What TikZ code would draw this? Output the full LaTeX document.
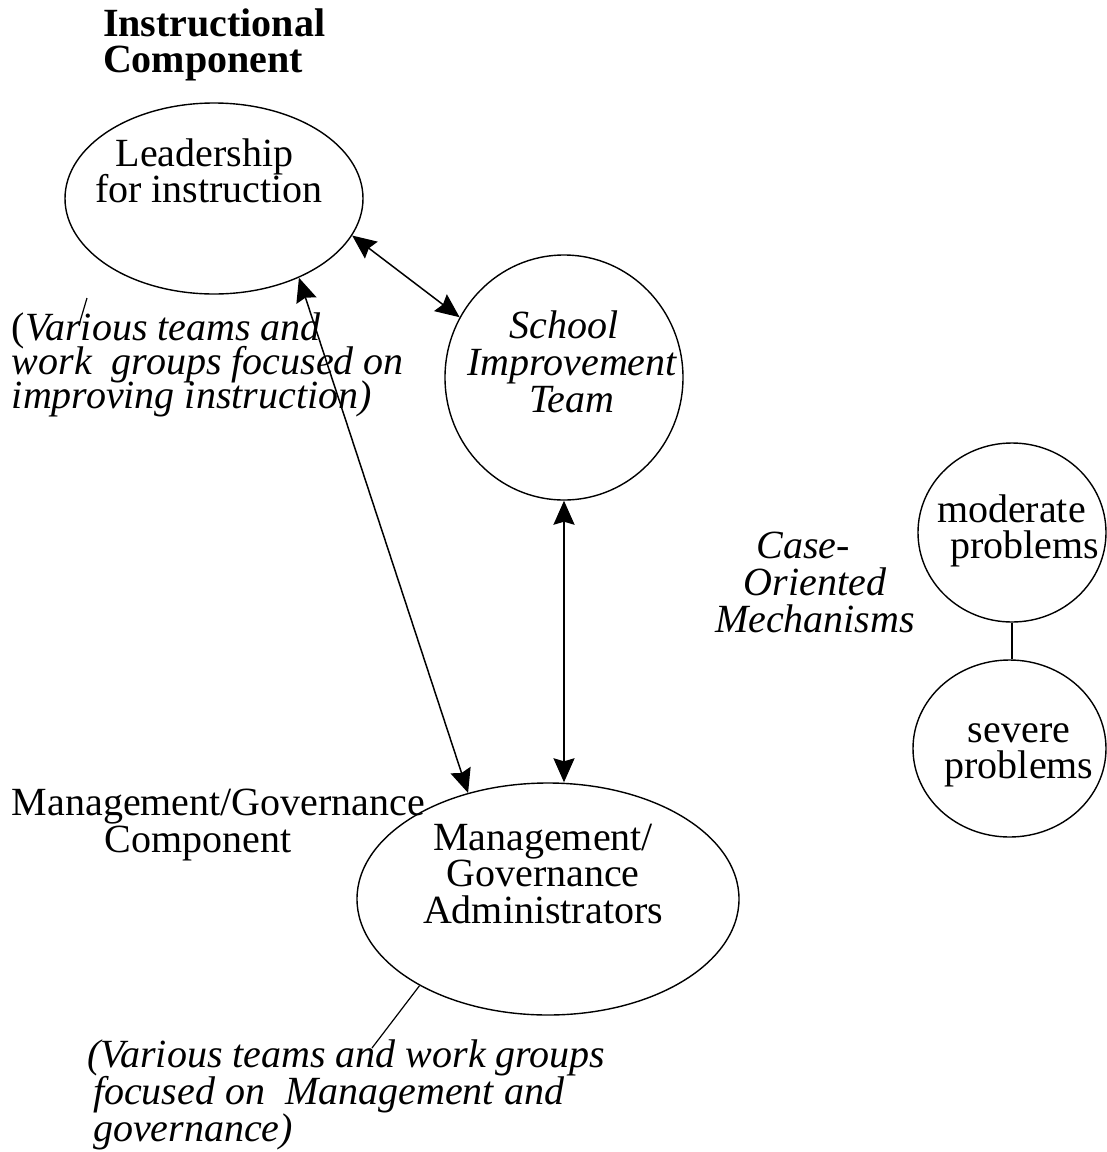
\documentclass[tikz,border=0pt]{standalone}
\usepackage{fontspec}
\setmainfont{Liberation Serif}
\usetikzlibrary{arrows.meta,shapes.geometric}
\newcommand{\cbox}[1]{\vtop{\halign{\hfil##\hfil\cr#1\crcr}}}
\newcommand{\lbox}[1]{\vtop{\halign{##\hfil\cr#1\crcr}}}
\newcommand{\fsz}[1]{\fontsize{40}{#1}\selectfont\lineskiplimit-100pt\relax}
\tikzset{
  lbl/.style={inner sep=0pt, outer sep=0pt, anchor=base, font={\fsz{36}}},
  lblw/.style={lbl, anchor=base west},
  blob/.style={draw, ellipse, line width=1.4pt, inner sep=0pt},
  arr/.style={line width=1.5pt, {Stealth[length=24pt,width=21pt,inset=3pt]}-{Stealth[length=24pt,width=21pt,inset=3pt]}},
  thin/.style={line width=1.2pt}
}
\begin{document}
\begin{tikzpicture}[x=1pt,y=-1pt]
\useasboundingbox (0,0) rectangle (1107,1152);
% title
\node[lblw, font={\fsz{36}\bfseries}] (title) at (103,36)
  {\lbox{Instructional\cr Component}};
% leadership
\node[blob, minimum width=298pt, minimum height=191pt] (lead) at (214,198.5) {};
\node[lbl] (leadtxt) at (209,166) {\cbox{Leadership\hspace*{9pt}\cr for instruction}};
% school improvement team
\node[blob, minimum width=238pt, minimum height=245pt] (sit) at (564,377.5) {};
\node[lbl, font={\fsz{37}\itshape}] (sittxt) at (572,338)
  {\cbox{School\hspace*{16pt}\cr Improvement\cr Team}};
% instructional teams note
\node[lblw, font={\fsz{34}\itshape}] (insttxt) at (12,340)
  {\lbox{{\upshape(}Various teams and\cr work\ \ groups focused on\cr improving instruction)}};
\coordinate (tickA) at (87,298);
\coordinate (tickB) at (79,325);
\draw[thin] (tickA) -- (tickB);
% management
\node[blob, minimum width=382pt, minimum height=232pt] (mgmt) at (548,899) {};
\node[lbl, font={\fsz{36.5}}] (mgmttxt) at (543,850)
  {\cbox{Management/\cr Governance\cr Administrators}};
\node[lblw, font={\fsz{37}}] (mgcomp) at (12,815)
  {\lbox{Management/Governance\cr\hspace*{93pt}Component}};
\node[lblw, font={\fsz{37}\itshape}] (mgvar) at (87,1067)
  {\lbox{(Various teams and work groups\cr\hspace*{6pt}focused on\ \ Management and\cr\hspace*{6pt}governance)}};
\coordinate (mgend) at (372,1048);
\draw[thin] (mgmt.214.6) -- (mgend);
% case oriented
\node[lbl, font={\fsz{37}\itshape}] (case) at (815,558)
  {\cbox{Case{\upshape-}\hspace*{24pt}\cr Oriented\cr Mechanisms}};
\node[blob, minimum width=188pt, minimum height=179pt] (mod) at (1012,532.5) {};
\node[lblw] (modtxt) at (937,522)
  {\lbox{moderate\cr\hspace*{13pt}problems}};
\node[blob, minimum width=193pt, minimum height=177pt] (sev) at (1009.5,748.5) {};
\node[lbl] (sevtxt) at (1019,742) {\cbox{severe\cr problems}};
% connectors
\draw[arr] (lead.-15) -- (sit.150);
\draw[arr] (lead.-43) -- (mgmt.127);
\draw[arr, line width=2pt] (sit.south) -- (sit.south |- mgmt.north);
\draw[thin] (mod.south) -- (mod.south |- sev.north);
\end{tikzpicture}
\end{document}
